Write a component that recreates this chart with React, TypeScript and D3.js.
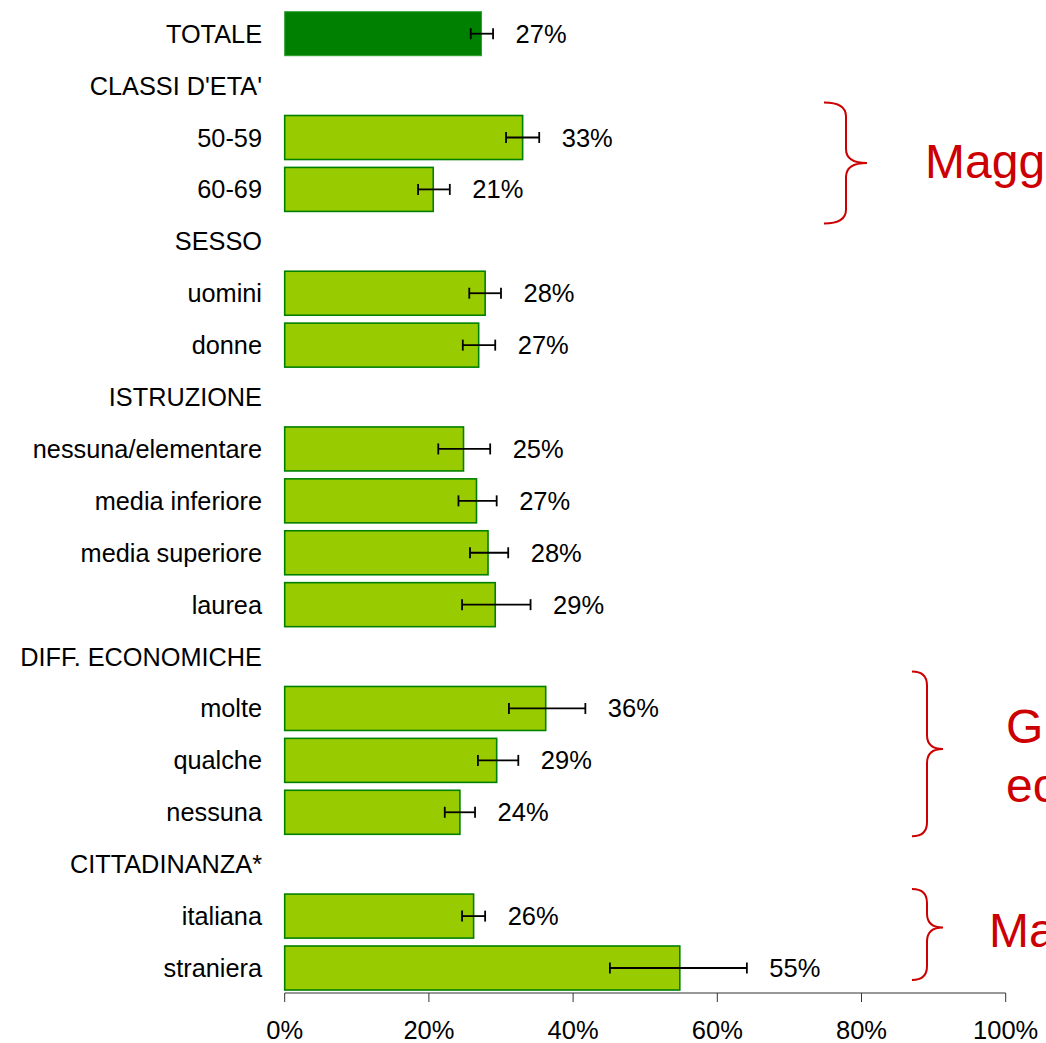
import React from "react";
import * as d3 from "d3";

// ---- data ----
const rowLabels = [
  "TOTALE",
  "CLASSI D'ETA'",
  "50-59",
  "60-69",
  "SESSO",
  "uomini",
  "donne",
  "ISTRUZIONE",
  "nessuna/elementare",
  "media inferiore",
  "media superiore",
  "laurea",
  "DIFF. ECONOMICHE",
  "molte",
  "qualche",
  "nessuna",
  "CITTADINANZA*",
  "italiana",
  "straniera",
];
const values: (number | null)[] = [
  27.3, null, 33.0, 20.6, null, 27.8, 26.9, null, 24.8, 26.6, 28.2, 29.2, null, 36.2, 29.4, 24.3, null, 26.2, 54.8,
];
const ciLow: (number | null)[] = [
  25.8, null, 30.7, 18.5, null, 25.6, 24.7, null, 21.3, 24.1, 25.7, 24.6, null, 31.1, 26.8, 22.2, null, 24.6, 45.1,
];
const ciHigh: (number | null)[] = [
  28.9, null, 35.3, 22.9, null, 30.0, 29.2, null, 28.5, 29.4, 31.0, 34.1, null, 41.7, 32.4, 26.4, null, 27.8, 64.1,
];
const xTicks = [0, 20, 40, 60, 80, 100];

// annotation callouts (braces), expressed by the rows they group
const braceFirstRow = ["50-59", "molte", "italiana"];
const braceLastRow = ["60-69", "nessuna", "straniera"];
const braceTexts = [["Maggiore tra i più giovani"], ["Gradiente", "economico"], ["Maggiore tra gli stranieri"]];

// ---- layout / style ----
const W = 1046;
const H = 1043;
const FONT = "'Liberation Sans', Arial, Helvetica, sans-serif";
const BAR_H = 44;
const braceGeom = [
  { x0: 824, xs: 846, xt: 867, padTop: 35, padBottom: 34, tipDy: 0, textX: 925, textY: 178 },
  { x0: 912, xs: 927, xt: 943, padTop: 37, padBottom: 24, tipDy: -5, textX: 1006, textY: 743 },
  { x0: 912, xs: 927, xt: 943, padTop: 27, padBottom: 12, tipDy: -7, textX: 989, textY: 947 },
];

function bracePath(x0: number, xs: number, xt: number, top: number, bottom: number, mid: number) {
  const r = 14;
  return [
    `M${x0},${top}`,
    `Q${xs},${top} ${xs},${top + r}`,
    `L${xs},${mid - r}`,
    `Q${xs},${mid} ${xt},${mid}`,
    `Q${xs},${mid} ${xs},${mid + r}`,
    `L${xs},${bottom - r}`,
    `Q${xs},${bottom} ${x0},${bottom}`,
  ].join(" ");
}

export default function App() {
  const x = d3.scaleLinear().domain([0, 100]).range([284.7, 1005.7]);
  const y = d3.scalePoint<string>().domain(rowLabels).range([33.7, 968]);
  const axisY = 993;
  const fmt = (v: number) => `${Math.round(v)}%`;

  return (
    <svg
      width={W}
      height={H}
      style={{ position: "absolute", left: 0, top: 0, display: "block", background: "#fff" }}
      fontFamily={FONT}
    >
      {/* category labels */}
      {rowLabels.map((lab) => (
        <text key={"l" + lab} x={262} y={(y(lab) as number) + 9} textAnchor="end" fontSize={25.3} fill="#000">
          {lab}
        </text>
      ))}

      {/* bars */}
      {rowLabels.map((lab, i) => {
        const v = values[i];
        if (v == null) return null;
        const cy = y(lab) as number;
        const total = i === 0;
        return (
          <rect
            key={"b" + lab}
            x={x(0)}
            y={cy - BAR_H / 2}
            width={x(v) - x(0)}
            height={BAR_H}
            fill={total ? "#008000" : "#99cc00"}
            stroke={total ? "#2e9e2e" : "#008000"}
            strokeWidth={total ? 1 : 1.6}
          />
        );
      })}

      {/* error bars */}
      {rowLabels.map((lab, i) => {
        const lo = ciLow[i];
        const hi = ciHigh[i];
        if (lo == null || hi == null) return null;
        const cy = y(lab) as number;
        return (
          <g key={"e" + lab} stroke="#000" strokeWidth={1.8}>
            <line x1={x(lo)} x2={x(hi)} y1={cy} y2={cy} />
            <line x1={x(lo)} x2={x(lo)} y1={cy - 5.5} y2={cy + 5.5} />
            <line x1={x(hi)} x2={x(hi)} y1={cy - 5.5} y2={cy + 5.5} />
          </g>
        );
      })}

      {/* value labels */}
      {rowLabels.map((lab, i) => {
        const v = values[i];
        const hi = ciHigh[i];
        if (v == null || hi == null) return null;
        return (
          <text key={"v" + lab} x={x(hi) + 22.5} y={(y(lab) as number) + 9} fontSize={25.5} fill="#000">
            {fmt(v)}
          </text>
        );
      })}

      {/* x axis */}
      <g>
        <line x1={x(0)} x2={x(100)} y1={axisY} y2={axisY} stroke="#333" strokeWidth={1} />
        {xTicks.map((t) => (
          <g key={"t" + t}>
            <line x1={x(t)} x2={x(t)} y1={axisY} y2={axisY + 9} stroke="#333" strokeWidth={1} />
            <text x={x(t)} y={1039} textAnchor="middle" fontSize={25.5} fill="#000">
              {fmt(t)}
            </text>
          </g>
        ))}
      </g>

      {/* braces + annotations */}
      {braceFirstRow.map((first, k) => {
        const g = braceGeom[k];
        const top = (y(first) as number) - g.padTop;
        const bottom = (y(braceLastRow[k]) as number) + g.padBottom;
        const mid = (top + bottom) / 2 + g.tipDy;
        return (
          <g key={"br" + k}>
            <path d={bracePath(g.x0, g.xs, g.xt, top, bottom, mid)} fill="none" stroke="#cc0000" strokeWidth={2} />
            {braceTexts[k].map((t, j) => (
              <text key={j} x={g.textX} y={g.textY + j * 58.5} fontSize={48} fill="#cc0000">
                {t}
              </text>
            ))}
          </g>
        );
      })}
    </svg>
  );
}
